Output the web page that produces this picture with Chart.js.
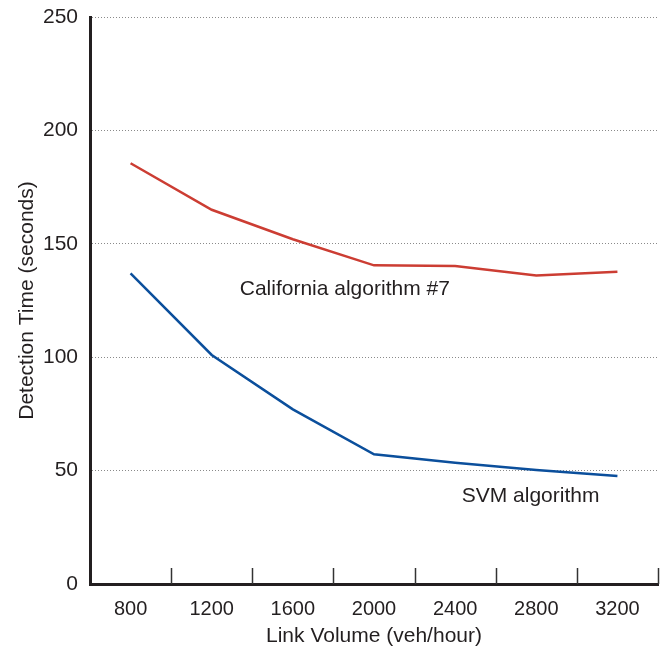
<!DOCTYPE html>
<html>
<head>
<meta charset="utf-8">
<script src="https://cdn.jsdelivr.net/npm/chart.js@4/dist/chart.umd.min.js"></script>
<style>
body{margin:0;background:#fff;}
canvas{display:block;}
</style>
</head>
<body>
<canvas id="detChart" width="660" height="651"></canvas>
<script>
const volumes = ['800','1200','1600','2000','2400','2800','3200'];
const californiaTimes = [185.5,165,152,140.5,140.2,136,137.7];
const svmTimes = [137,101,77,57.2,53.5,50.3,47.6];
const seriesNames = ['California algorithm #7','SVM algorithm'];

const textColor = '#231f20';
const fontFamily = "'Liberation Sans', Arial, sans-serif";

// tick marks between categories, pointing up into the plot
const innerTicks = {
id:'innerTicks',
afterDraw(chart){
let x = chart.scales.x;
let ctx = chart.ctx;
let bottom = chart.chartArea.bottom;
ctx.save();
ctx.strokeStyle = '#333';
ctx.lineWidth = 1.5;
for(let i=0;i<volumes.length;i++){
let step = i < volumes.length-1 ? x.getPixelForValue(i+1)-x.getPixelForValue(i) : x.getPixelForValue(i)-x.getPixelForValue(i-1);
let px = Math.round(x.getPixelForValue(i)+step/2)+0.5;
ctx.beginPath();
ctx.moveTo(px,bottom);
ctx.lineTo(px,bottom-16);
ctx.stroke();
}
ctx.restore();
}
};

// series names written beside the lines
const lineLabels = {
id:'lineLabels',
afterDraw(chart,args,opts){
let ctx = chart.ctx;
ctx.save();
ctx.font = '21px ' + fontFamily;
ctx.fillStyle = textColor;
ctx.textAlign = 'center';
ctx.textBaseline = 'middle';
opts.items.forEach(it=>{
ctx.fillText(it.text, chart.scales.x.getPixelForValue(it.x), chart.scales.y.getPixelForValue(it.y));
});
ctx.restore();
}
};

new Chart(document.getElementById('detChart'),{
type:'line',
data:{
labels:volumes,
datasets:[{
label:seriesNames[0],
data:californiaTimes,
borderColor:'#cc3d33',
borderWidth:2.5,
pointRadius:0,
tension:0
},{
label:seriesNames[1],
data:svmTimes,
borderColor:'#0b4f9c',
borderWidth:2.5,
pointRadius:0,
tension:0
}]
},
options:{
responsive:false,
animation:false,
layout:{padding:{top:0,right:2,left:0,bottom:0}},
plugins:{
legend:{display:false},
tooltip:{enabled:false},
lineLabels:{items:[
{text:seriesNames[0],x:2.64,y:130},
{text:seriesNames[1],x:4.93,y:38.8}
]}
},
scales:{
x:{
offset:true,
grid:{display:false},
border:{display:true,width:3,color:textColor},
ticks:{color:textColor,font:{family:fontFamily,size:20},padding:5,maxRotation:0},
title:{display:true,text:'Link Volume (veh/hour)',color:textColor,font:{family:fontFamily,size:21},padding:{top:0,bottom:2}},
afterFit(s){s.height=67;}
},
y:{
min:0,
max:250,
ticks:{stepSize:50,color:textColor,font:{family:fontFamily,size:21},padding:12},
grid:{color:'#8a8a8a',lineWidth:1,drawTicks:false},
border:{display:true,width:3,color:textColor,dash:[1,2]},
title:{display:true,text:'Detection Time (seconds)',color:textColor,font:{family:fontFamily,size:21},padding:{top:15,bottom:0}},
afterFit(s){s.width=90;s.paddingTop=17;s.paddingBottom=0;}
}
}
},
plugins:[innerTicks,lineLabels]
});
</script>
</body>
</html>
